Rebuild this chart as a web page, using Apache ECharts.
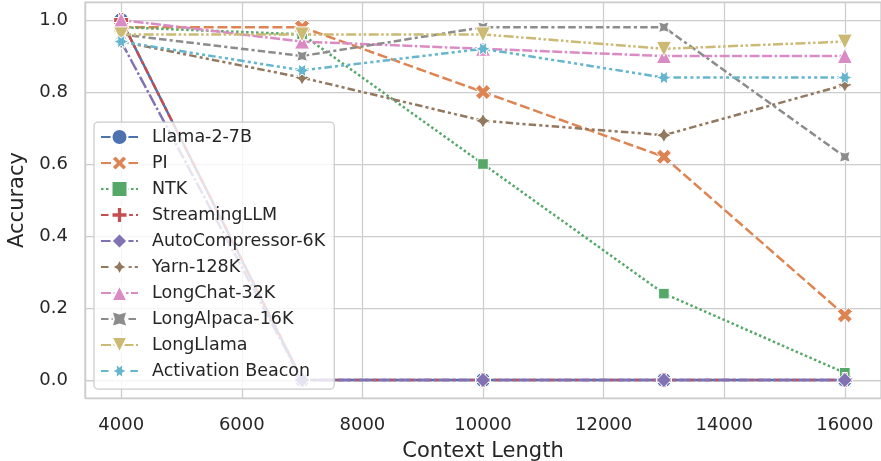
<!DOCTYPE html>
<html>
<head>
<meta charset="utf-8">
<script src="https://cdn.jsdelivr.net/npm/echarts@6/dist/echarts.min.js"></script>
<style>
html,body{margin:0;padding:0;background:#fff;}
#chart{width:881px;height:461px;}
</style>
</head>
<body>
<div id="chart"></div>
<script>
// ---- data ----
const contextLengths = [4000, 7000, 10000, 13000, 16000];
const seriesNames = ['Llama-2-7B', 'PI', 'NTK', 'StreamingLLM', 'AutoCompressor-6K', 'Yarn-128K', 'LongChat-32K', 'LongAlpaca-16K', 'LongLlama', 'Activation Beacon'];
const llama2 = [1.00, 0.00, 0.00, 0.00, 0.00];
const pi = [0.98, 0.98, 0.80, 0.62, 0.18];
const ntk = [0.98, 0.96, 0.60, 0.24, 0.02];
const streamingLLM = [1.00, 0.00, 0.00, 0.00, 0.00];
const autoCompressor = [0.94, 0.00, 0.00, 0.00, 0.00];
const yarn = [0.94, 0.84, 0.72, 0.68, 0.82];
const longChat = [1.00, 0.94, 0.92, 0.90, 0.90];
const longAlpaca = [0.96, 0.90, 0.98, 0.98, 0.62];
const longLlama = [0.96, 0.96, 0.96, 0.92, 0.94];
const activationBeacon = [0.94, 0.86, 0.92, 0.84, 0.84];
const xTicks = [4000, 6000, 8000, 10000, 12000, 14000, 16000];
const yTicks = [0.0, 0.2, 0.4, 0.6, 0.8, 1.0];

const values = [llama2, pi, ntk, streamingLLM, autoCompressor, yarn, longChat, longAlpaca, longLlama, activationBeacon];

// ---- styles ----
const colors = ['#4C72B0', '#DD8452', '#55A868', '#C44E52', '#8172B3', '#937860', '#DA8BC3', '#8C8C8C', '#CCB974', '#64B5CD'];
const LW = 2.5;
const dashUnits = [
  null,
  [4, 1.5],
  [1, 1],
  [3, 1.25, 1.5, 1.25],
  [5, 1, 1, 1],
  [3, 1.25, 1.25, 1.25, 1.25, 1.25],
  [4, 1, 4, 1, 1, 1],
  [3, 1.25, 3, 1.25, 1.25, 1.25],
  [4, 1, 1, 1, 1, 1],
  [3, 1.25, 1.25, 1.25, 1.25, 1.25, 1.25, 1.25]
];
const S = 15;
const symbols = [
  'circle',
  'path://M-1,-2 L0,-1 L1,-2 L2,-1 L1,0 L2,1 L1,2 L0,1 L-1,2 L-2,1 L-1,0 L-2,-1 Z',
  'rect',
  'path://M-1,-3 L1,-3 L1,-1 L3,-1 L3,1 L1,1 L1,3 L-1,3 L-1,1 L-3,1 L-3,-1 L-1,-1 Z',
  'diamond',
  'path://M0,-100 L35.36,-35.36 L100,0 L35.36,35.36 L0,100 L-35.36,35.36 L-100,0 L-35.36,-35.36 Z',
  'triangle',
  'path://M-70.71,-70.71 L0,-50 L70.71,-70.71 L50,0 L70.71,70.71 L0,50 L-70.71,70.71 L-50,0 Z',
  'path://M-1,-1 L1,-1 L0,1 Z',
  'path://M100,0 L43.3,25 L50,86.6 L0,50 L-50,86.6 L-43.3,25 L-100,0 L-43.3,-25 L-50,-86.6 L0,-50 L50,-86.6 L43.3,-25 Z'
];
const symbolSizes = [S, S, S * 0.707, S, S, S, S, S * 0.707, S, S];

const series = seriesNames.map((name, i) => ({
  name: name,
  type: 'line',
  data: contextLengths.map((x, j) => [x, values[i][j]]),
  symbol: symbols[i],
  symbolSize: symbolSizes[i],
  symbolKeepAspect: true,
  showAllSymbol: true,
  lineStyle: {
    color: colors[i],
    width: LW,
    type: dashUnits[i] ? dashUnits[i].map(d => d * LW) : 'solid',
    cap: 'butt'
  },
  itemStyle: { color: colors[i], borderColor: '#ffffff', borderWidth: 1, opacity: 1 },
  emphasis: { disabled: true },
  animation: false
}));

const chart = echarts.init(document.getElementById('chart'), null, { renderer: 'canvas' });
const FONT = 'DejaVu Sans';
const TXT = '#262626';
const GRIDC = '#cccccc';

chart.setOption({
  animation: false,
  backgroundColor: '#ffffff',
  color: colors,
  grid: { left: 85, right: 0, top: 2, bottom: 63, outerBoundsMode: 'none', containLabel: false, show: true, borderColor: GRIDC, borderWidth: 1.25, backgroundColor: 'transparent' },
  xAxis: {
    type: 'value',
    min: 3400, max: 16600,
    minInterval: 2000, maxInterval: 2000,
    name: 'Context Length',
    nameLocation: 'middle',
    nameGap: 43,
    nameTextStyle: { fontFamily: FONT, fontSize: 21, color: TXT },
    axisLine: { show: true, lineStyle: { color: GRIDC, width: 1.25 } },
    axisTick: { show: false },
    axisLabel: {
      fontFamily: FONT, fontSize: 18, color: TXT, margin: 18,
      showMinLabel: false, showMaxLabel: false,
      formatter: v => (xTicks.indexOf(Math.round(v)) >= 0 ? String(Math.round(v)) : '')
    },
    splitLine: { show: true, lineStyle: { color: GRIDC, width: 1.25 } }
  },
  yAxis: {
    type: 'value',
    min: -0.05, max: 1.05,
    splitNumber: 5,
    minInterval: 0.2, maxInterval: 0.2,
    name: 'Accuracy',
    nameLocation: 'middle',
    nameGap: 56,
    nameTextStyle: { fontFamily: FONT, fontSize: 21, color: TXT },
    axisLine: { show: true, lineStyle: { color: GRIDC, width: 1.25 } },
    axisTick: { show: false },
    axisLabel: {
      fontFamily: FONT, fontSize: 18, color: TXT, margin: 17,
      showMinLabel: false, showMaxLabel: false,
      formatter: v => {
        const hit = yTicks.find(t => Math.abs(t - v) < 1e-6);
        return hit === undefined ? '' : hit.toFixed(1);
      }
    },
    splitLine: { show: true, lineStyle: { color: GRIDC, width: 1.25 } }
  },
  legend: {
    orient: 'vertical',
    left: 94, top: 122,
    padding: [6, 9, 9, 6],
    itemWidth: 37, itemHeight: 20, itemGap: 8,
    backgroundColor: 'rgba(255,255,255,0.8)',
    borderColor: GRIDC, borderWidth: 1.25, borderRadius: 4,
    textStyle: { fontFamily: FONT, fontSize: 17.5, color: TXT, padding: [0, 0, 0, 9] },
    data: seriesNames,
    selectedMode: false
  },
  series: series
});
</script>
</body>
</html>
